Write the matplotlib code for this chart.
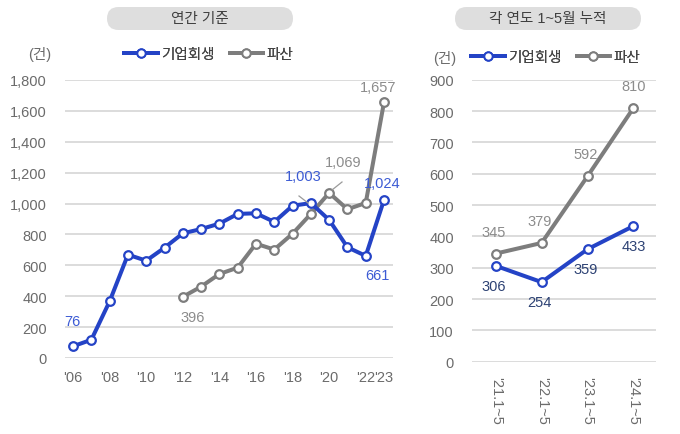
import matplotlib
matplotlib.use("Agg")
import matplotlib.pyplot as plt
from matplotlib.lines import Line2D
from matplotlib.patches import FancyBboxPatch
from matplotlib.transforms import IdentityTransform

plt.rcParams['font.family'] = ['Liberation Sans', 'Noto Sans CJK KR', 'DejaVu Sans']

# ---- data ----
years = list(range(2006, 2024))
rehab_annual = [76, 118, 367, 669, 630, 714, 807, 835, 870, 933, 937, 881, 986, 1003, 894, 717, 661, 1024]
bank_years = list(range(2012, 2024))
bank_annual = [396, 462, 544, 585, 740, 702, 805, 933, 1069, 963, 1004, 1657]
year_ticks = [2006, 2008, 2010, 2012, 2014, 2016, 2018, 2020, 2022, 2023]
year_labels = ["'06", "'08", "'10", "'12", "'14", "'16", "'18", "'20", "'22", "'23"]

periods = ["'21.1~5", "'22.1~5", "'23.1~5", "'24.1~5"]
rehab_ytd = [306, 254, 359, 433]
bank_ytd = [345, 379, 592, 810]

BLUE = '#2443c6'
GRAY = '#7d7d7d'
LBLUE = '#3c5bd4'
NAVY = '#2d4274'
LGRAY = '#8c8c8c'
TICK = '#6b6b6b'
GRID = '#d9d9d9'

W, H = 680, 435
fig = plt.figure(figsize=(6.8, 4.35), dpi=100)

def fx(px): return px / W
def fy(py): return 1 - py / H

axL = fig.add_axes([fx(65), fy(359), fx(393) - fx(65), fy(81) - fy(359)])
axR = fig.add_axes([fx(472), fy(362.7), fx(656) - fx(472), fy(80.7) - fy(362.7)])

mk = dict(marker='o', markersize=6.2, markerfacecolor='white', markeredgewidth=1.6, clip_on=False)
axL.plot(years, rehab_annual, color=BLUE, lw=2.9, markeredgecolor=BLUE, zorder=4, **mk)
axL.plot(bank_years, bank_annual, color=GRAY, lw=2.9, markeredgecolor=GRAY, zorder=3, **mk)
axL.set_xlim(2005.56, 2023.49)
axL.set_ylim(0, 1800)
axL.set_yticks(range(0, 1801, 200))
axL.set_yticklabels([f"{v:,}" for v in range(0, 1801, 200)])
axL.set_xticks(year_ticks)
axL.set_xticklabels(year_labels)

xR = list(range(len(periods)))
axR.plot(xR, rehab_ytd, color=BLUE, lw=2.9, markeredgecolor=BLUE, zorder=4, **mk)
axR.plot(xR, bank_ytd, color=GRAY, lw=2.9, markeredgecolor=GRAY, zorder=3, **mk)
axR.set_xlim(-0.516, 3.49)
axR.set_ylim(0, 900)
axR.set_yticks(range(0, 901, 100))
axR.set_xticks(xR)
axR.set_xticklabels(periods, rotation=-90)

for ax in (axL, axR):
    for s in ax.spines.values():
        s.set_visible(False)
    ax.grid(axis='y', color=GRID, lw=1.3)
    ax.set_axisbelow(True)
    ax.tick_params(length=0, labelsize=10.5, colors=TICK)
axL.tick_params(axis='y', pad=13)
axL.tick_params(axis='x', pad=9)
axR.tick_params(axis='y', pad=13)
axR.tick_params(axis='x', pad=10)

def lab(ax, x, y, txt, dx, dy, color):
    ax.annotate(txt, (x, y), xytext=(dx, dy), textcoords='offset pixels',
                ha='center', va='center', fontsize=10.5, color=color, zorder=6)

# left labels
lab(axL, 2006, 76, "76", -1, 25, LBLUE)
lab(axL, 2012, 396, "396", 10, -20, LGRAY)
lab(axL, 2022, 661, "661", 12, -19, LBLUE)
lab(axL, 2023, 1024, "1,024", -2, 17, LBLUE)
lab(axL, 2023, 1657, "1,657", -6, 15, LGRAY)
lab(axL, 2019, 1003, "1,003", -8, 27, LBLUE)
lab(axL, 2020, 1069, "1,069", 14, 31, LGRAY)
# leader lines
fig.add_artist(Line2D([fx(299), fx(308)], [fy(197), fy(204)], color='#9a9a9a', lw=0.9))
fig.add_artist(Line2D([fx(332), fx(342)], [fy(191), fy(183)], color='#9a9a9a', lw=0.9))

# right labels
for i, v in enumerate(bank_ytd):
    lab(axR, i, v, f"{v:,}", -2 if i < 3 else 0, 22, LGRAY)
for i, v in enumerate(rehab_ytd):
    lab(axR, i, v, f"{v:,}", -2 if i < 3 else 0, -20, NAVY)

# title pills (drawn in pixel coordinates)
def pill(x0, x1, y0, y1, txt):
    h = y1 - y0
    p = FancyBboxPatch((x0, H - y1), x1 - x0, h,
                       boxstyle=f"round,pad=0,rounding_size={h / 2}",
                       transform=IdentityTransform(), fc='#dedede', ec='none')
    fig.add_artist(p)
    fig.text(fx((x0 + x1) / 2), fy((y0 + y1) / 2), txt, ha='center', va='center',
             fontsize=10.5, color='#3f3f3f')

pill(107, 293, 8, 31, "연간 기준")
pill(455, 641, 8, 31, "각 연도 1~5월 누적")

# units
fig.text(fx(40), fy(55), "(건)", ha='center', va='center', fontsize=10.5, color=TICK)
fig.text(fx(445), fy(58), "(건)", ha='center', va='center', fontsize=10.5, color=TICK)

# legends
handles = [Line2D([], [], color=BLUE, lw=2.8, marker='o', markersize=6, markerfacecolor='white',
                  markeredgecolor=BLUE, markeredgewidth=1.4),
           Line2D([], [], color=GRAY, lw=2.8, marker='o', markersize=6, markerfacecolor='white',
                  markeredgecolor=GRAY, markeredgewidth=1.4)]
names = ["기업회생", "파산"]
for cx, cy in ((209, 55), (556, 58)):
    leg = fig.legend(handles, names, loc='center', bbox_to_anchor=(fx(cx), fy(cy)), ncol=2,
                     frameon=False, fontsize=10.5, handlelength=2.3, handletextpad=0.25,
                     columnspacing=1.0, labelcolor='#444444')
    fig.add_artist(leg)

fig.savefig("out.png", dpi=100, facecolor='white')
